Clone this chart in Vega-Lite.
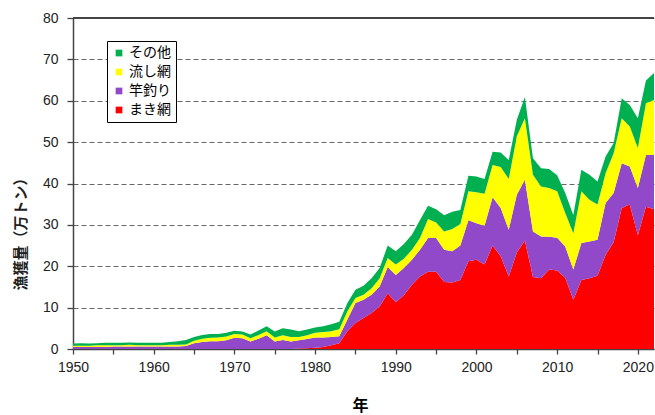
{
  "$schema": "https://vega.github.io/schema/vega-lite/v6.json",
  "width": 581,
  "height": 331,
  "autosize": {"type": "none"},
  "padding": {"left": 73, "top": 18, "right": 1, "bottom": 66},
  "background": "white",
  "config": {"view": {"stroke": null}},
  "data": {"values": [
    {"year":1950,"まき網":0,"竿釣り":0.5,"流し網":0.3,"その他":0.5},
    {"year":1951,"まき網":0,"竿釣り":0.5,"流し網":0.3,"その他":0.6},
    {"year":1952,"まき網":0,"竿釣り":0.5,"流し網":0.3,"その他":0.5},
    {"year":1953,"まき網":0,"竿釣り":0.5,"流し網":0.4,"その他":0.5},
    {"year":1954,"まき網":0,"竿釣り":0.5,"流し網":0.4,"その他":0.6},
    {"year":1955,"まき網":0,"竿釣り":0.6,"流し網":0.3,"その他":0.6},
    {"year":1956,"まき網":0,"竿釣り":0.6,"流し網":0.3,"その他":0.6},
    {"year":1957,"まき網":0,"竿釣り":0.6,"流し網":0.4,"その他":0.6},
    {"year":1958,"まき網":0,"竿釣り":0.6,"流し網":0.3,"その他":0.6},
    {"year":1959,"まき網":0,"竿釣り":0.6,"流し網":0.3,"その他":0.6},
    {"year":1960,"まき網":0,"竿釣り":0.6,"流し網":0.3,"その他":0.6},
    {"year":1961,"まき網":0,"竿釣り":0.6,"流し網":0.3,"その他":0.6},
    {"year":1962,"まき網":0,"竿釣り":0.6,"流し網":0.4,"その他":0.7},
    {"year":1963,"まき網":0,"竿釣り":0.6,"流し網":0.4,"その他":0.9},
    {"year":1964,"まき網":0,"竿釣り":0.7,"流し網":0.4,"その他":1.1},
    {"year":1965,"まき網":0,"竿釣り":1.4,"流し網":0.6,"その他":0.9},
    {"year":1966,"まき網":0,"竿釣り":1.7,"流し網":0.8,"その他":0.9},
    {"year":1967,"まき網":0,"竿釣り":1.9,"流し網":0.8,"その他":0.9},
    {"year":1968,"まき網":0,"竿釣り":1.9,"流し網":0.9,"その他":0.8},
    {"year":1969,"まき網":0,"竿釣り":2.1,"流し網":0.9,"その他":0.9},
    {"year":1970,"まき網":0,"竿釣り":2.7,"流し網":0.9,"その他":0.8},
    {"year":1971,"まき網":0,"竿釣り":2.6,"流し網":0.9,"その他":0.7},
    {"year":1972,"まき網":0,"竿釣り":1.8,"流し網":0.8,"その他":0.9},
    {"year":1973,"まき網":0,"竿釣り":2.5,"流し網":0.9,"その他":1.1},
    {"year":1974,"まき網":0,"竿釣り":3.3,"流し網":1.0,"その他":1.2},
    {"year":1975,"まき網":0,"竿釣り":1.8,"流し網":1.0,"その他":1.4},
    {"year":1976,"まき網":0,"竿釣り":2.2,"流し網":1.1,"その他":1.7},
    {"year":1977,"まき網":0,"竿釣り":1.8,"流し網":1.1,"その他":1.8},
    {"year":1978,"まき網":0.1,"竿釣り":2.0,"流し網":0.8,"その他":1.4},
    {"year":1979,"まき網":0.2,"竿釣り":2.2,"流し網":0.9,"その他":1.4},
    {"year":1980,"まき網":0.3,"竿釣り":2.5,"流し網":1.1,"その他":1.3},
    {"year":1981,"まき網":0.5,"竿釣り":2.3,"流し網":1.3,"その他":1.4},
    {"year":1982,"まき網":0.9,"竿釣り":2.0,"流し網":1.4,"その他":1.7},
    {"year":1983,"まき網":1.4,"竿釣り":1.7,"流し網":1.7,"その他":1.8},
    {"year":1984,"まき網":4.3,"竿釣り":2.8,"流し網":2.0,"その他":2.0},
    {"year":1985,"まき網":6.3,"竿釣り":4.8,"流し網":1.2,"その他":2.0},
    {"year":1986,"まき網":7.5,"竿釣り":4.4,"流し網":1.2,"その他":2.2},
    {"year":1987,"まき網":8.7,"竿釣り":4.4,"流し網":1.6,"その他":2.4},
    {"year":1988,"まき網":10.3,"竿釣り":4.8,"流し網":2.0,"その他":2.5},
    {"year":1989,"まき網":13.5,"竿釣り":6.3,"流し網":2.2,"その他":3.0},
    {"year":1990,"まき網":11.3,"竿釣り":6.6,"流し網":2.5,"その他":3.2},
    {"year":1991,"まき網":13.0,"竿釣り":6.6,"流し網":2.2,"その他":3.6},
    {"year":1992,"まき網":15.5,"竿釣り":6.1,"流し網":2.4,"その他":3.6},
    {"year":1993,"まき網":17.5,"竿釣り":6.5,"流し網":2.8,"その他":4.4},
    {"year":1994,"まき網":18.7,"竿釣り":8.1,"流し網":4.6,"その他":3.2},
    {"year":1995,"まき網":18.7,"竿釣り":8.1,"流し網":3.8,"その他":3.2},
    {"year":1996,"まき網":16.2,"竿釣り":7.8,"流し網":4.4,"その他":3.9},
    {"year":1997,"まき網":16.1,"竿釣り":7.5,"流し網":5.4,"その他":4.2},
    {"year":1998,"まき網":16.7,"竿釣り":8.3,"流し網":5.2,"その他":3.4},
    {"year":1999,"まき網":21.2,"竿釣り":9.9,"流し網":7.0,"その他":3.8},
    {"year":2000,"まき網":21.6,"竿釣り":8.8,"流し網":7.5,"その他":3.8},
    {"year":2001,"まき網":20.4,"竿釣り":9.4,"流し網":7.7,"その他":3.6},
    {"year":2002,"まき網":25.0,"竿釣り":11.7,"流し網":7.8,"その他":3.2},
    {"year":2003,"まき網":22.4,"竿釣り":11.7,"流し網":9.9,"その他":3.5},
    {"year":2004,"まき網":17.5,"竿釣り":11.3,"流し網":12.3,"その他":4.6},
    {"year":2005,"まき網":23.3,"竿釣り":14.0,"流し網":14.1,"その他":4.0},
    {"year":2006,"まき網":26.2,"竿釣り":14.7,"流し網":14.9,"その他":5.1},
    {"year":2007,"まき網":17.4,"竿釣り":11.0,"流し網":13.7,"その他":4.0},
    {"year":2008,"まき網":17.1,"竿釣り":10.1,"流し網":12.1,"その他":4.4},
    {"year":2009,"まき網":19.2,"竿釣り":7.9,"流し網":11.8,"その他":4.6},
    {"year":2010,"まき網":19.0,"竿釣り":7.9,"流し網":11.2,"その他":3.9},
    {"year":2011,"まき網":17.2,"竿釣り":7.6,"流し網":8.1,"その他":4.8},
    {"year":2012,"まき網":11.9,"竿釣り":7.3,"流し網":8.8,"その他":4.4},
    {"year":2013,"まき網":16.7,"竿釣り":8.9,"流し網":12.5,"その他":5.2},
    {"year":2014,"まき網":17.1,"竿釣り":8.9,"流し網":10.1,"その他":6.0},
    {"year":2015,"まき網":17.7,"竿釣り":8.7,"流し網":8.5,"その他":5.6},
    {"year":2016,"まき網":22.8,"竿釣り":12.5,"流し網":7.2,"その他":4.0},
    {"year":2017,"まき網":25.8,"竿釣り":11.9,"流し網":9.6,"その他":2.5},
    {"year":2018,"まき網":34.1,"竿釣り":10.8,"流し網":10.9,"その他":4.8},
    {"year":2019,"まき網":34.9,"竿釣り":9.2,"流し網":9.7,"その他":5.2},
    {"year":2020,"まき網":27.5,"竿釣り":11.4,"流し網":9.7,"その他":7.2},
    {"year":2021,"まき網":34.4,"竿釣り":12.5,"流し網":12.5,"その他":5.5},
    {"year":2022,"まき網":33.8,"竿釣り":13.1,"流し網":13.3,"その他":6.5}
  ]},
  "layer": [
    {
      "transform": [
        {"fold": ["まき網", "竿釣り", "流し網", "その他"], "as": ["type", "value"]},
        {"stack": "value", "groupby": ["year"], "as": ["v0", "v1"]}
      ],
      "mark": {"type": "area", "interpolate": "linear"},
      "encoding": {
        "x": {
          "field": "year", "type": "quantitative",
          "scale": {"domain": [1950, 2022], "nice": false, "zero": false},
          "axis": {
            "title": "年",
            "titleFont": "Noto Sans CJK JP", "titleFontSize": 16, "titleFontWeight": "bold", "titleColor": "#000",
            "titleX": 287, "titleY": 56, "titleBaseline": "middle", "titleAlign": "center",
            "values": [1950,1955,1960,1965,1970,1975,1980,1985,1990,1995,2000,2005,2010,2015,2020],
            "labelExpr": "datum.value % 10 === 0 ? datum.value : ''",
            "labelFont": "Liberation Sans", "labelFontSize": 14, "labelColor": "#222",
            "labelPadding": 6, "labelFlush": false, "labelOverlap": false,
            "tickSize": 5, "tickColor": "#444", "tickWidth": 1.3,
            "domainColor": "#444", "domainWidth": 1.5,
            "grid": false
          }
        },
        "y": {
          "field": "v1", "type": "quantitative",
          "scale": {"domain": [0, 80], "nice": false},
          "axis": {
            "title": "漁獲量（万トン）",
            "titleFont": "Noto Sans CJK JP", "titleFontSize": 15, "titleFontWeight": "bold", "titleColor": "#222",
            "titleX": -53, "titleY": 212, "titleAngle": -90, "titleBaseline": "middle", "titleAlign": "center",
            "values": [0,10,20,30,40,50,60,70,80],
            "labelFont": "Liberation Sans", "labelFontSize": 14, "labelColor": "#222",
            "labelPadding": 9,
            "tickSize": 6, "tickColor": "#444", "tickWidth": 1.3,
            "domainColor": "#444", "domainWidth": 1.5,
            "grid": true, "gridColor": "#666", "gridDash": [5, 3], "gridWidth": 1
          }
        },
        "y2": {"field": "v0"},
        "color": {
          "field": "type", "type": "nominal",
          "scale": {
            "domain": ["その他", "流し網", "竿釣り", "まき網"],
            "range": ["#00b050", "#ffff00", "#9148c9", "#ff0000"]
          },
          "legend": {
            "title": null,
            "orient": "none", "legendX": 34, "legendY": 23,
            "strokeColor": "#000", "fillColor": "#fff", "padding": 5,
            "symbolType": "square", "symbolSize": 45, "symbolStrokeWidth": 0,
            "labelFont": "Noto Sans CJK JP", "labelFontSize": 14, "labelColor": "#000",
            "labelOffset": 3, "rowPadding": 5
          }
        }
      }
    },
    {
      "mark": {"type": "rule", "color": "#444", "strokeWidth": 1.5},
      "encoding": {"y": {"datum": 80}}
    }
  ]
}
